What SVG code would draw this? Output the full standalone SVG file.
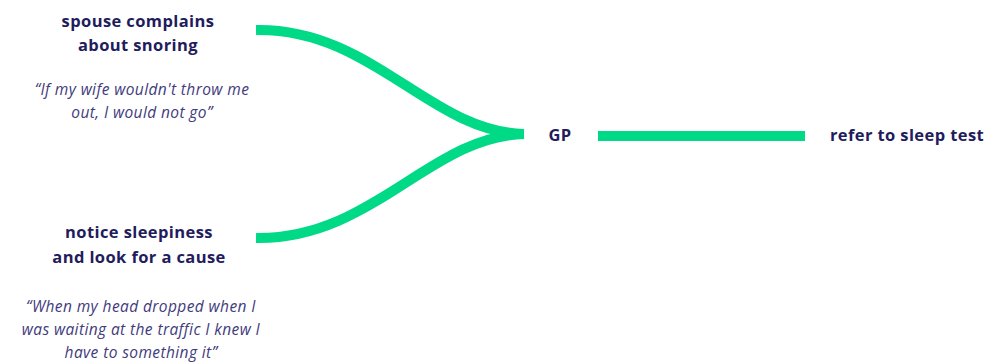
<svg xmlns="http://www.w3.org/2000/svg" width="989" height="364" viewBox="0 0 989 364">
  <style>
    .title { font-family: "Open Sans", "Noto Sans", sans-serif; font-weight: 700; font-size: 16.5px; letter-spacing: 0.4px; fill: #221c5c; text-anchor: middle; }
    .quote { font-family: "Open Sans", "Noto Sans", sans-serif; font-style: italic; font-size: 15.5px; letter-spacing: 0.4px; fill: #3f3b7c; text-anchor: middle; }
    .link { fill: none; stroke: #00d986; stroke-width: 10; }
  </style>
  <rect width="989" height="364" fill="#ffffff"/>
  <g id="connectors">
    <path class="link" d="M256,30 C372,28 430,132 524,134"/>
    <path class="link" d="M256,238 C372,240 430,136 524,134"/>
    <path class="link" d="M598,136 H805"/>
  </g>
  <g id="spouse">
    <text class="title" x="138" y="27">spouse complains</text>
    <text class="title" x="138" y="51">about snoring</text>
    <text class="quote" x="142" y="95">“If my wife wouldn't throw me</text>
    <text class="quote" x="142" y="118">out, I would not go”</text>
  </g>
  <g id="sleepiness">
    <text class="title" x="139" y="238">notice sleepiness</text>
    <text class="title" x="139" y="263">and look for a cause</text>
    <text class="quote" x="141" y="312">“When my head dropped when I</text>
    <text class="quote" x="141" y="335">was waiting at the traffic I knew I</text>
    <text class="quote" x="141" y="358">have to something it”</text>
  </g>
  <g id="gp">
    <text class="title" x="560" y="141">GP</text>
  </g>
  <g id="sleep-test">
    <text class="title" x="907" y="141">refer to sleep test</text>
  </g>
</svg>
